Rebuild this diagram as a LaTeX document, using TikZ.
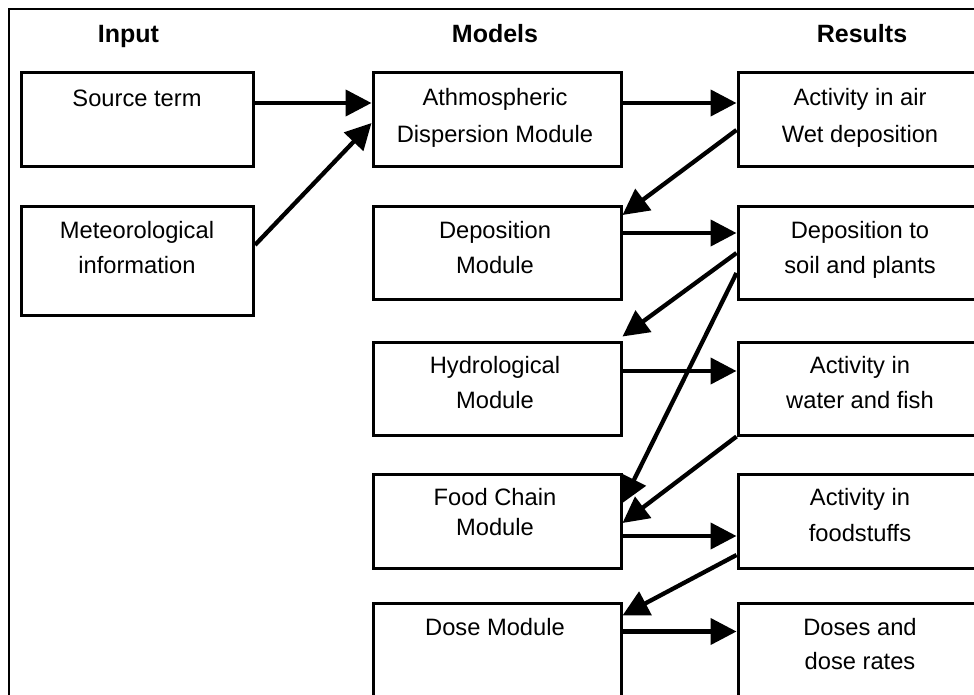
\documentclass[tikz,border=0pt]{standalone}
\usepackage{fontspec}
\setmainfont{Liberation Sans}
\usetikzlibrary{arrows.meta}
\begin{document}
\begin{tikzpicture}[x=1pt,y=-1pt,
  box/.style={draw, line width=3pt, rectangle, inner sep=0pt},
  inbox/.style={box, minimum width=232pt},
  modbox/.style={box, minimum width=248pt},
  resbox/.style={box, minimum width=244pt},
  boxtext/.style={anchor=north, inner sep=0pt, align=center,
    font=\fontsize{23.7}{35.5}\selectfont},
  head/.style={anchor=base, inner sep=0pt, font=\fontsize{25}{30}\selectfont\bfseries},
  frame/.style={line width=2.6pt},
  flow/.style={line width=4.3pt, -{Triangle[length=26pt,width=26pt]}}]

\useasboundingbox (0,0) rectangle (974,695);
\clip (0,0) rectangle (974,695);

% outer frame (open to the right and bottom)
\draw[frame] (9,720) -- (9,9) -- (1000,9);

% column headings
\node[head] (h-in)  at (128.5,43) {Input};
\node[head] (h-mod) at (495,43)   {Models};
\node[head] (h-res) at (862,43)   {Results};

% input boxes
\node[inbox, minimum height=94pt]  (src) at (137.5,120) {};
\node[inbox, minimum height=108pt] (met) at (137.5,261) {};

% model boxes
\node[modbox, minimum height=94pt]  (atm)  at (497,120)   {};
\node[modbox, minimum height=93pt]  (dep)  at (497,253)   {};
\node[modbox, minimum height=93pt]  (hyd)  at (497,388.5) {};
\node[modbox, minimum height=94pt]  (food) at (497,521)   {};
\node[modbox, minimum height=120pt] (dose) at (497,663)   {};

% result boxes
\node[resbox, minimum height=94pt]  (air)    at (860,120)   {};
\node[resbox, minimum height=93pt]  (soil)   at (860,253)   {};
\node[resbox, minimum height=93pt]  (water)  at (860,388.5) {};
\node[resbox, minimum height=94pt]  (fstuff) at (860,521)   {};
\node[resbox, minimum height=120pt] (doses)  at (860,663)   {};

% box captions
\node[boxtext] (src-t)    at (137,90)  {Source term};
\node[boxtext] (met-t)    at (137,221) {Meteorological\\information};
\node[boxtext] (atm-t)    at (495,88)  {Athmospheric\\[1.5pt]Dispersion Module};
\node[boxtext] (dep-t)    at (495,221) {Deposition\\Module};
\node[boxtext] (hyd-t)    at (495,356) {Hydrological\\Module};
\node[boxtext] (food-t)   at (495,488) {Food Chain\\[-5.5pt]Module};
\node[boxtext] (dose-t)   at (495,618) {Dose Module};
\node[boxtext] (air-t)    at (860,88)  {Activity in air\\[1.5pt]Wet deposition};
\node[boxtext] (soil-t)   at (860,221) {Deposition to\\soil and plants};
\node[boxtext] (water-t)  at (860,356) {Activity in\\water and fish};
\node[boxtext] (fstuff-t) at (860,488) {Activity in\\[0.5pt]foodstuffs};
\node[boxtext] (doses-t)  at (860,618) {Doses and\\[-1.5pt]dose rates};

% data flow
\draw[flow] ([yshift=17pt]src.east) -- ([yshift=17pt]atm.west);
\draw[flow] ([yshift=16pt]met.east) -- ([yshift=-3pt]atm.west);
\draw[flow] ([yshift=17pt]atm.east) -- ([yshift=17pt]air.west);
\draw[flow] ([yshift=-10pt]air.west) -- ([yshift=-10pt]dep.north east);
\draw[flow] ([yshift=20pt]dep.east) -- ([yshift=20pt]soil.west);
\draw[flow] (soil.west) -- ([yshift=4pt]hyd.north east);
\draw[flow] ([yshift=-20pt]soil.west) -- ([yshift=18pt]food.east);
\draw[flow] ([yshift=17.5pt]hyd.east) -- ([yshift=17.5pt]water.west);
\draw[flow] (water.south west) -- ([yshift=-2pt]food.east);
\draw[flow] ([yshift=-15pt]food.east) -- ([yshift=-15pt]fstuff.west);
\draw[flow] ([yshift=-34pt]fstuff.west) -- ([yshift=-14pt]dose.north east);
\draw[flow] ([yshift=-30pt]dose.north east) -- ([yshift=-30pt]doses.north west);
\end{tikzpicture}
\end{document}
